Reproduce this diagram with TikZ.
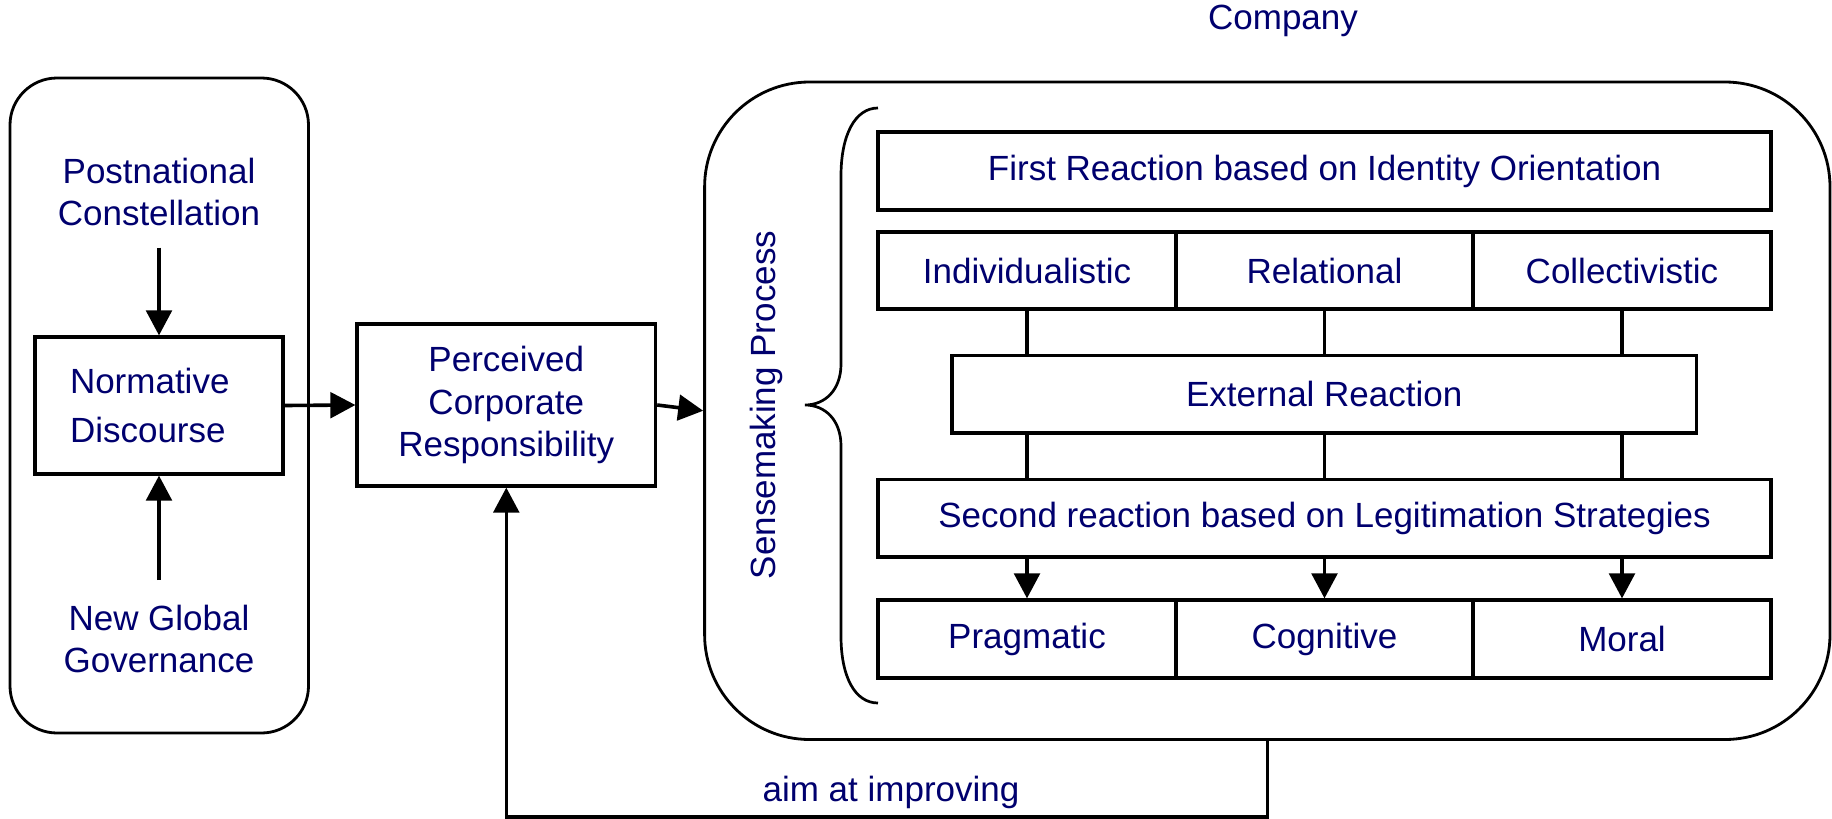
\documentclass[tikz,border=0pt]{standalone}
\usepackage{fontspec}
\setmainfont{Liberation Sans}
\usetikzlibrary{arrows.meta}
\definecolor{navy}{RGB}{0,0,110}
\begin{document}
\begin{tikzpicture}[x=0.5pt,y=-0.5pt,
  every node/.style={font=\fontsize{17.5}{20.7}\selectfont, text=navy},
  box/.style={draw, line width=1.6pt, inner sep=0pt, align=center},
  conn/.style={line width=1.8pt},
  arr/.style={conn, -{Triangle[length=12.5pt,width=12.8pt]}},
]
\useasboundingbox (0,0) rectangle (1832,819);

% left group
\node[box, line width=1.4pt, rounded corners=23.5pt, minimum width=149.25pt, minimum height=327.5pt] (left) at (159.25,405.5) {};
\node (post) at (159,192) [align=center] {Postnational\\Constellation};
\node[box, minimum width=124pt, minimum height=68.5pt, text width=89pt, inner xsep=17.5pt, align=left,
      font=\fontsize{17.5}{24.75}\selectfont] (norm) at (159,405.5) {Normative\\Discourse};
\node (ngg) at (159,639) [align=center] {New Global\\Governance};
\coordinate (pa) at (159,247.5);
\coordinate (pb) at (159,580);
\draw[arr] (pa) -- (norm.north);
\draw[arr] (pb) -- (norm.south);

% perceived
\node[box, minimum width=149.3pt, minimum height=81pt, font=\fontsize{17.5}{21.2}\selectfont] (perc) at (506.3,405) {Perceived\\Corporate\\Responsibility};
\draw[arr] (norm.east) -- (perc.west);

% company
\node (complabel) at (1283,21) {Company};
\node[box, line width=1.4pt, rounded corners=52.5pt, minimum width=562.7pt, minimum height=328.75pt] (comp) at (1267.3,410.75) {};
\draw[arr] (perc.east) -- (comp.west);

\node[rotate=90] (sense) at (766.5,405) {Sensemaking Process};
\draw[line width=1.35pt] (878,108) .. controls (855,108) and (841,135) .. (841,176) -- (841,364)
  .. controls (841,390) and (825,405) .. (805,405)
  .. controls (825,405) and (841,420) .. (841,446) -- (841,636)
  .. controls (841,677) and (855,703) .. (878,703);

\node[box, minimum width=446.5pt, minimum height=39pt] (first) at (1324.5,171) {First Reaction based on Identity Orientation};
\node[box, minimum width=149pt, minimum height=38.5pt] (ind) at (1027,270.5) {Individualistic};
\node[box, minimum width=148.5pt, minimum height=38.5pt] (rel) at (1324.5,270.5) {Relational};
\node[box, minimum width=149pt, minimum height=38.5pt] (col) at (1622,270.5) {Collectivistic};
\node[box, minimum width=372.25pt, minimum height=38.75pt] (ext) at (1324.25,394.25) {External Reaction};
\node[box, minimum width=446.5pt, minimum height=38.7pt] (sec) at (1324.5,518.3) {Second reaction based on Legitimation Strategies};
\node[box, minimum width=149pt, minimum height=39pt] (prag) at (1027,639) {Pragmatic};
\node[box, minimum width=148.5pt, minimum height=39pt] (cog) at (1324.5,639) {Cognitive};
\node[box, minimum width=149pt, minimum height=39pt] (mor) at (1622,639) {Moral};

\foreach \a/\b in {ind/prag, rel/cog, col/mor}{
  \draw[conn] (\a.south) -- (\a.south |- ext.north);
  \draw[conn] (\a.south |- ext.south) -- (\a.south |- sec.north);
  \draw[arr] (\a.south |- sec.south) -- (\b.north);
}

% feedback loop
\draw[arr] (comp.south) -- ++(0,76) coordinate (lc) -- (lc -| perc.south) -- (perc.south);
\node[anchor=base] (aim) at (891,801.7) {aim at improving};
\end{tikzpicture}
\end{document}
